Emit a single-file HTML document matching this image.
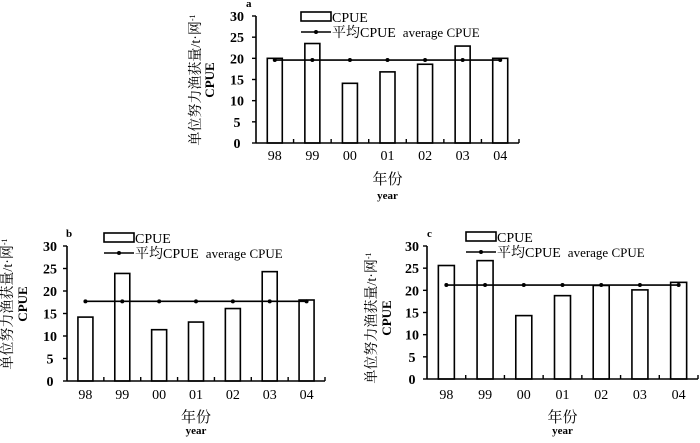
<!DOCTYPE html>
<html><head><meta charset="utf-8"><style>
body{margin:0;background:#fff;}
svg text{font-family:"Liberation Serif","Noto Serif CJK SC",serif;fill:#000;}
</style></head><body>
<svg id="s" width="700" height="438" xmlns="http://www.w3.org/2000/svg"></svg>
<script>
const S=document.getElementById('s');let h='';
function chart(c){
 const {x0,x1,y0,y30,vals,avg,bw,lab,lx,ly,legx,legy,tlx,ycx1,ycx2,ycy,xly,nly,yly}=c;
 const u=(y0-y30)/30, cw=(x1-x0)/7;
 const Y=v=>y0-v*u;
 vals.forEach((v,i)=>{const cx=x0+cw*(i+0.5);h+=`<rect x="${cx-bw/2}" y="${Y(v)}" width="${bw}" height="${v*u}" fill="#fff" stroke="#000" stroke-width="1.6"/>`;});
 h+=`<line x1="${x0}" y1="${y30}" x2="${x0}" y2="${y0}" stroke="#000" stroke-width="1.6"/>`;
 h+=`<line x1="${x0}" y1="${y0}" x2="${x1}" y2="${y0}" stroke="#000" stroke-width="1.6"/>`;
 for(let k=0;k<=6;k++){const yy=Y(k*5);h+=`<line x1="${x0-4}" y1="${yy}" x2="${x0}" y2="${yy}" stroke="#000" stroke-width="1.4"/>`;
  h+=`<text x="${tlx}" y="${yy+5}" font-size="14" font-weight="bold" text-anchor="middle">${k*5}</text>`;}
 for(let k=1;k<=7;k++){const xx=x0+cw*k;h+=`<line x1="${xx}" y1="${y0-4}" x2="${xx}" y2="${y0}" stroke="#000" stroke-width="1.4"/>`;}
 ['98','99','00','01','02','03','04'].forEach((t,i)=>{h+=`<text x="${x0+cw*(i+0.5)}" y="${xly}" font-size="14" text-anchor="middle">${t}</text>`;});
 const ay=Y(avg);
 h+=`<line x1="${x0+cw*0.5}" y1="${ay}" x2="${x0+cw*6.5}" y2="${ay}" stroke="#000" stroke-width="1.6"/>`;
 for(let i=0;i<7;i++)h+=`<circle cx="${x0+cw*(i+0.5)}" cy="${ay}" r="2" fill="#000"/>`;
 h+=`<rect x="${legx}" y="${legy}" width="30" height="9" fill="#fff" stroke="#000" stroke-width="1.6"/>`;
 h+=`<text x="${legx+31}" y="${legy+10}" font-size="14">CPUE</text>`;
 h+=`<line x1="${legx}" y1="${legy+20}" x2="${legx+30}" y2="${legy+20}" stroke="#000" stroke-width="1.6"/><circle cx="${legx+15}" cy="${legy+20}" r="2" fill="#000"/>`;
 h+=`<text x="${legx+31}" y="${legy+25}" font-size="14" xml:space="preserve">平均CPUE  <tspan font-size="13">average CPUE</tspan></text>`;
 h+=`<text x="${lx}" y="${ly}" font-size="11" font-weight="bold">${lab}</text>`;
 h+=`<text transform="translate(${ycx1},${ycy}) rotate(-90)" font-size="14" text-anchor="middle">单位努力渔获量/t·网<tspan font-size="8" dy="-5">-1</tspan></text>`;
 h+=`<text transform="translate(${ycx2},${ycy}) rotate(-90)" font-size="13" font-weight="bold" text-anchor="middle">CPUE</text>`;
 const xc=(x0+x1)/2;
 h+=`<text x="${xc}" y="${nly}" font-size="15" text-anchor="middle">年份</text>`;
 h+=`<text x="${xc}" y="${yly}" font-size="11" font-weight="bold" text-anchor="middle">year</text>`;
}
chart({x0:256,x1:519,y0:143,y30:16,vals:[20,23.5,14.1,16.8,18.6,22.9,20],avg:19.6,bw:15,lab:'a',lx:246,ly:7,legx:301,legy:12,tlx:237,ycx1:200,ycx2:214,ycy:80,xly:160,nly:184,yly:199});
chart({x0:67,x1:325,y0:381,y30:246,vals:[14.2,23.9,11.4,13.1,16.1,24.3,18],avg:17.7,bw:15,lab:'b',lx:66,ly:237,legx:104,legy:233,tlx:50,ycx1:12,ycx2:27,ycy:304,xly:399,nly:422,yly:434});
chart({x0:427,x1:698,y0:379,y30:246,vals:[25.6,26.7,14.3,18.8,21.1,20.1,21.8],avg:21.2,bw:16,lab:'c',lx:427,ly:237,legx:466,legy:232,tlx:412,ycx1:376,ycx2:391,ycy:318,xly:399,nly:422,yly:434});
S.innerHTML=h;
</script>
</body></html>
